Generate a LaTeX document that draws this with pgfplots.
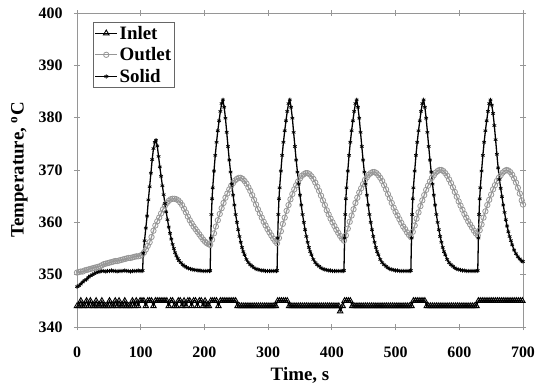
\documentclass[border=0pt]{standalone}
\usepackage{fontspec}
\setmainfont{Liberation Serif}
\usepackage{pgfplots}
\pgfplotsset{compat=1.18}
\definecolor{outletgray}{RGB}{150,150,150}
\definecolor{framegray}{RGB}{150,150,150}

\begin{document}
\begin{tikzpicture}
\useasboundingbox (-77bp,-60bp) rectangle (459bp,327bp);
\begin{axis}[
  at={(0,0)}, anchor=south west,
  scale only axis, width=446bp, height=314bp,
  xmin=0, xmax=700, ymin=340, ymax=400,
  xtick={0,100,...,700}, ytick={340,350,...,400},
  tick align=center, major tick length=6bp,
  axis line style={draw=framegray, line width=0.8pt},
  tick style={draw=framegray, line width=0.8pt},
  /pgf/number format/assume math mode=true,
  tick label style={black, font=\fontsize{16}{18}\selectfont\bfseries},
  xticklabel shift=13bp, yticklabel shift=8bp,
  label style={font=\fontsize{19}{22}\selectfont\bfseries},
  xlabel={Time, s}, xlabel shift=3bp,
  ylabel={Temperature, \textsuperscript{o}C}, ylabel shift=4bp,
  legend cell align=left,
  legend style={at={(0.036,0.971)}, anchor=north west,
    draw=black!60, line width=0.6pt, inner sep=1.5pt, row sep=3pt,
    font=\fontsize{19}{19}\selectfont\bfseries},
  legend image code/.code={\draw[mark repeat=2,mark phase=2,#1]
    plot coordinates {(0cm,0cm) (0.38cm,0cm) (0.76cm,0cm)};},
]

% inlet gas temperature
\addplot[black, line width=1.2pt, mark=triangle, mark size=3.2pt,
  mark options={solid, line width=0.9pt}] coordinates {
(0,344)(3,344)(6,345)(9,344)(12,344)(15,345)(18,344)(21,345)(24,344)(27,344)
(30,345)(33,344)(36,344)(39,345)(42,344)(45,344)(48,344)(51,345)(54,344)(57,344)
(60,345)(63,344)(66,345)(69,344)(72,344)(75,345)(78,344)(81,344)(84,344)(87,345)
(90,344)(93,345)(96,344)(99,345)
(102,345)(105,345)(108,344)(111,345)(114,345)(117,345)(120,344)(123,345)(126,345)
(129,345)(132,345)(135,345)(138,345)
(141,345)(144,344)(147,345)(150,345)(153,344)(156,344)(159,345)(162,345)(165,344)
(168,345)(171,344)(174,345)(177,345)(180,344)(183,345)(186,345)(189,344)(192,345)
(195,345)(198,344)(201,345)(204,344)(207,344)
(210,345)(213,345)(216,345)(219,345)(222,344)(225,345)(228,345)(231,345)(234,345)
(237,345)(240,345)(243,345)(246,345)(249,345)
(252,344)(255,344)(258,344)(261,344)(264,344)(267,344)(270,344)(273,344)(276,344)
(279,344)(282,344)(285,344)(288,344)(291,344)(294,344)(297,344)(300,344)(303,344)
(306,344)(309,344)(312,344)
(315,345)(318,345)(321,345)(324,345)(327,345)(330,345)
(333,344)(336,344)(339,344)(342,344)(345,344)(348,344)(351,344)(354,344)(357,344)
(360,344)(363,344)(366,344)(369,344)(372,344)(375,344)(378,344)(381,344)(384,344)
(387,344)(390,344)(393,344)(396,344)(399,344)(402,344)(405,344)(408,344)(411,344)
(413,343)(417,344)
(420,345)(423,345)(426,345)(429,345)
(432,344)(435,344)(438,344)(441,344)(444,344)(447,344)(450,344)(453,344)(456,344)
(459,344)(462,344)(465,344)(468,344)(471,344)(474,344)(477,344)(480,344)(483,344)
(486,344)(489,344)(492,344)(495,344)(498,344)(501,344)(504,344)(507,344)(510,344)
(513,344)(516,344)(519,344)(522,344)(525,344)
(528,345)(531,345)(534,345)(537,345)(540,345)(543,345)(546,345)
(549,344)(552,344)(555,344)(558,344)(561,344)(564,344)(567,344)(570,344)(573,344)
(576,344)(579,344)(582,344)(585,344)(588,344)(591,344)(594,344)(597,344)(600,344)
(603,344)(606,344)(609,344)(612,344)(615,344)(618,344)(621,344)(624,344)(627,344)
(630,345)(633,345)(636,345)(639,345)(642,345)(645,345)(648,345)(651,345)(654,345)
(657,345)(660,345)(663,345)(666,345)(669,345)(672,345)(675,345)(678,345)(681,345)
(684,345)(687,345)(690,345)(693,345)(696,345)(699,345)
};
\addlegendentry{Inlet}

% outlet gas temperature
\addplot[outletgray, line width=1.2pt, mark=o, mark size=2.7pt,
  mark options={solid, line width=0.8pt}] coordinates {
(0,350.4)(3,350.5)(6,350.6)(9,350.6)(12,350.8)(15,350.9)(18,351.0)(21,351.1)
(24,351.2)(27,351.3)(30,351.4)(33,351.5)(36,351.6)(39,351.8)(42,352.0)(45,352.1)
(48,352.2)(51,352.3)(54,352.4)(57,352.5)(60,352.6)(63,352.6)(66,352.7)(69,352.8)
(72,352.9)(75,353.0)(78,353.1)(81,353.2)(84,353.2)(87,353.3)(90,353.4)(93,353.5)
(96,353.5)(99,353.6)(102,353.8)(105,354.2)(108,354.8)(111,355.5)(114,356.2)
(117,357.2)(120,358.4)(123,359.4)(126,360.2)(129,360.9)(132,361.7)(135,362.5)
(138,363.2)(141,363.7)(144,364.1)(147,364.4)(150,364.5)(153,364.5)(156,364.4)
(159,364.2)(162,363.8)(165,363.3)(168,362.6)(171,361.9)(174,361.1)(177,360.4)
(180,359.8)(183,359.2)(186,358.7)(189,358.2)(192,357.7)(195,357.2)(198,356.7)
(201,356.3)(204,356.0)(207,355.8)(209,355.7)
(212,356.7)(215,357.9)(218,359.2)(221,360.4)(224,361.6)(227,362.7)(230,363.7)
(233,364.7)(236,365.5)(239,366.3)(242,367.0)(245,367.5)(248,368.0)(251,368.3)
(254,368.5)(257,368.5)(260,368.3)(263,367.9)(266,367.4)(269,366.7)(272,366.0)
(275,365.2)(278,364.3)(281,363.4)(284,362.5)(287,361.7)(290,360.9)(293,360.1)
(296,359.4)(299,358.7)(302,358.1)(305,357.5)(308,356.9)(311,356.4)(314,356.0)
(317,357.0)(320,358.3)(323,359.7)(326,360.9)(329,362.2)(332,363.3)(335,364.4)
(338,365.4)(341,366.3)(344,367.1)(347,367.8)(350,368.4)(353,368.9)(356,369.2)
(359,369.4)(362,369.4)(365,369.2)(368,368.8)(371,368.3)(374,367.6)(377,366.8)
(380,366.0)(383,365.1)(386,364.2)(389,363.3)(392,362.3)(395,361.5)(398,360.7)
(401,360.0)(404,359.3)(407,358.6)(410,358.0)(413,357.4)(416,356.9)(419,356.5)
(422,357.5)(425,358.8)(428,360.1)(431,361.3)(434,362.5)(437,363.7)(440,364.7)
(443,365.7)(446,366.5)(449,367.3)(452,368.1)(455,368.6)(458,369.1)(461,369.4)
(464,369.6)(467,369.6)(470,369.4)(473,369.0)(476,368.5)(479,367.9)(482,367.1)
(485,366.3)(488,365.4)(491,364.6)(494,363.7)(497,362.8)(500,362.0)(503,361.3)
(506,360.6)(509,359.9)(512,359.2)(515,358.7)(518,358.1)(521,357.6)(524,357.2)
(527,358.2)(530,359.4)(533,360.7)(536,361.9)(539,363.1)(542,364.2)(545,365.2)
(548,366.2)(551,367.0)(554,367.8)(557,368.5)(560,369.0)(563,369.5)(566,369.8)
(569,370.0)(572,370.0)(575,369.8)(578,369.4)(581,368.9)(584,368.2)(587,367.5)
(590,366.7)(593,365.8)(596,364.9)(599,364.0)(602,363.2)(605,362.4)(608,361.6)
(611,360.9)(614,360.2)(617,359.6)(620,359.0)(623,358.4)(626,357.9)(629,357.5)
(632,358.5)(635,359.6)(638,360.9)(641,362.1)(644,363.3)(647,364.3)(650,365.3)
(653,366.3)(656,367.1)(659,367.9)(662,368.5)(665,369.0)(668,369.5)(671,369.8)
(674,370.0)(677,369.9)(680,369.6)(683,369.1)(686,368.4)(689,367.6)(692,366.6)
(695,365.5)(698,364.2)(700,363.4)
};
\addlegendentry{Outlet}

% solid (packing) temperature
\addplot[black, line width=1.3pt, mark=asterisk, mark size=2.1pt,
  mark options={solid, line width=0.7pt}] coordinates {
(0,347.7)(3,347.9)(6,348.2)(9,348.6)(12,348.9)(15,349.1)(18,349.5)(21,349.8)
(24,350.0)(27,350.2)(30,350.4)(33,350.5)(36,350.6)(39,350.7)(42,350.7)(45,350.6)
(48,350.7)(51,350.7)(54,350.8)(57,350.7)(60,350.7)(63,350.6)(66,350.7)(69,350.7)
(72,350.7)(75,350.8)(78,350.7)(81,350.7)(84,350.6)(87,350.7)(90,350.7)(93,350.7)
(96,350.8)(99,350.7)(102,350.7)
(103,350.8)(104,354.1)(106,356.5)(108,358.9)(110,361.2)(112,364.3)(114,366.8)
(116,369.4)(118,372.0)(120,374.1)(122,375.3)(124,375.7)(126,374.6)(128,372.6)
(130,370.6)(132,368.8)(134,367.0)(136,365.3)(138,363.6)(140,362.0)(142,360.5)
(144,359.1)(146,357.9)(148,356.8)(150,355.8)(152,355.0)(154,354.2)(156,353.6)
(158,353.1)(160,352.7)(163,352.3)(166,351.9)(169,351.6)(172,351.4)(175,351.2)
(178,351.1)(181,351.0)(184,350.9)(187,350.9)(190,350.8)(193,350.8)(196,350.7)
(199,350.7)(202,350.7)(205,350.7)(208,350.7)
(209,350.8)(210,357.0)(211,361.5)(212,364.5)(213,366.6)(215,369.8)(217,372.8)
(219,375.3)(221,377.5)(223,379.4)(225,381.2)(227,382.7)(229,383.4)(231,382.0)
(233,379.9)(235,377.2)(237,374.5)(239,371.9)(241,369.6)(243,367.3)(245,365.2)
(247,363.3)(249,361.5)(251,360.0)(253,358.6)(255,357.3)(257,356.2)(259,355.2)
(261,354.4)(263,353.8)(266,352.9)(269,352.3)(272,351.9)(275,351.6)(278,351.3)
(281,351.1)(284,351.0)(287,350.9)(290,350.8)(293,350.8)(296,350.7)(299,350.7)
(302,350.7)(305,350.7)(308,350.7)(311,350.7)(313,350.7)
(314,350.8)(315,357.0)(316,361.5)(317,364.5)(318,366.6)(320,369.8)(322,372.8)
(324,375.3)(326,377.5)(328,379.4)(330,381.2)(332,382.7)(334,383.4)(336,382.0)
(338,379.9)(340,377.2)(342,374.5)(344,371.9)(346,369.6)(348,367.3)(350,365.2)
(352,363.3)(354,361.5)(356,360.0)(358,358.6)(360,357.3)(362,356.2)(364,355.2)
(366,354.4)(368,353.8)(371,352.9)(374,352.3)(377,351.9)(380,351.6)(383,351.3)
(386,351.1)(389,351.0)(392,350.9)(395,350.8)(398,350.8)(401,350.7)(404,350.7)
(407,350.7)(410,350.7)(413,350.7)(416,350.7)(418,350.7)
(419,350.8)(420,357.0)(421,361.5)(422,364.5)(423,366.6)(425,369.8)(427,372.8)
(429,375.3)(431,377.5)(433,379.4)(435,381.2)(437,382.7)(439,383.4)(441,382.0)
(443,379.9)(445,377.2)(447,374.5)(449,371.9)(451,369.6)(453,367.3)(455,365.2)
(457,363.3)(459,361.5)(461,360.0)(463,358.6)(465,357.3)(467,356.2)(469,355.2)
(471,354.4)(473,353.8)(476,352.9)(479,352.3)(482,351.9)(485,351.6)(488,351.3)
(491,351.1)(494,351.0)(497,350.9)(500,350.8)(503,350.8)(506,350.7)(509,350.7)
(512,350.7)(515,350.7)(518,350.7)(521,350.7)(523,350.7)
(524,350.8)(525,357.0)(526,361.5)(527,364.5)(528,366.6)(530,369.8)(532,372.8)
(534,375.3)(536,377.5)(538,379.4)(540,381.2)(542,382.7)(544,383.4)(546,382.0)
(548,379.9)(550,377.2)(552,374.5)(554,371.9)(556,369.6)(558,367.3)(560,365.2)
(562,363.3)(564,361.5)(566,360.0)(568,358.6)(570,357.3)(572,356.2)(574,355.2)
(576,354.4)(578,353.8)(581,352.9)(584,352.3)(587,351.9)(590,351.6)(593,351.3)
(596,351.1)(599,351.0)(602,350.9)(605,350.8)(608,350.8)(611,350.7)(614,350.7)
(617,350.7)(620,350.7)(623,350.7)(626,350.7)(628,350.7)
(629,350.8)(630,357.0)(631,361.5)(632,364.5)(633,366.6)(635,369.8)(637,372.8)
(639,375.3)(641,377.5)(643,379.4)(645,381.2)(647,382.7)(649,383.4)(651,382.4)
(653,380.8)(655,378.5)(657,375.8)(659,373.0)(661,370.4)(663,368.2)(665,366.5)
(667,364.9)(669,363.3)(671,361.9)(673,360.5)(675,359.3)(677,358.2)(679,357.3)
(681,356.5)(683,355.7)(686,354.7)(689,354.0)(692,353.4)(695,353.0)(698,352.6)
(700,352.5)
};
\addlegendentry{Solid}
\end{axis}
\end{tikzpicture}
\end{document}
